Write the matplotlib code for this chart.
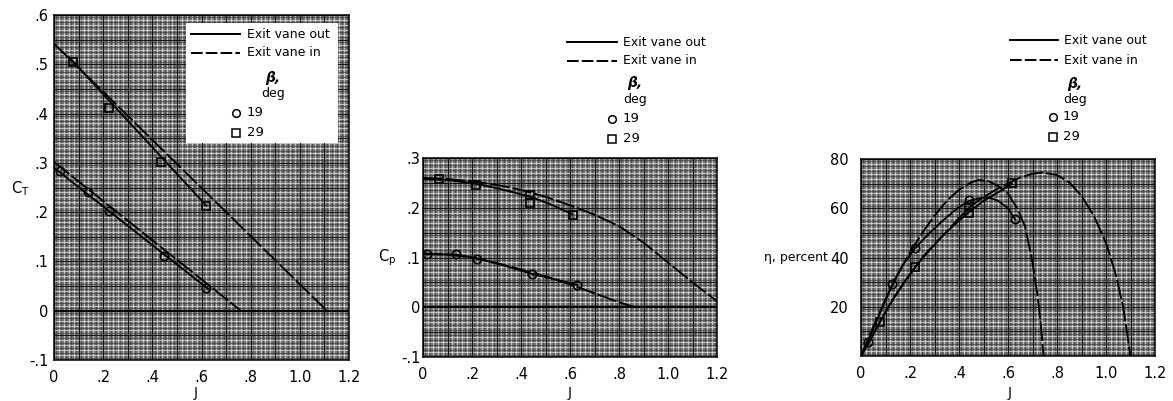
import matplotlib
matplotlib.use('Agg')
import numpy as np
import matplotlib.pyplot as plt
from matplotlib.lines import Line2D
from matplotlib.patches import Rectangle

W, H = 1173, 401

# --- thrust coefficient C_T vs advance ratio J ---
ct29_in_j = [0.0, 1.11]
ct29_in = [0.542, 0.0]
ct29_out_j = [0.06, 0.62]
ct29_out = [0.515, 0.213]
ct19_in_j = [0.0, 0.76]
ct19_in = [0.302, 0.0]
ct19_out_j = [0.0, 0.63]
ct19_out = [0.29, 0.043]
ct_sq_j = [0.077, 0.224, 0.435, 0.618]
ct_sq = [0.505, 0.412, 0.302, 0.213]
ct_ci_j = [0.024, 0.138, 0.224, 0.447, 0.618]
ct_ci = [0.284, 0.241, 0.203, 0.112, 0.047]

# --- power coefficient C_p vs J ---
cp29_in_j = [0.0, 0.1, 0.2, 0.3, 0.4, 0.5, 0.6, 0.7, 0.8, 0.9, 1.0, 1.1, 1.2]
cp29_in = [0.26, 0.258, 0.253, 0.246, 0.236, 0.222, 0.205, 0.186, 0.163, 0.13, 0.09, 0.05, 0.012]
cp29_out_j = [0.0, 0.1, 0.22, 0.33, 0.44, 0.53, 0.61]
cp29_out = [0.258, 0.256, 0.248, 0.236, 0.222, 0.205, 0.187]
cp19_in_j = [0.0, 0.1, 0.2, 0.3, 0.4, 0.5, 0.6, 0.7, 0.8, 0.865]
cp19_in = [0.108, 0.106, 0.1, 0.089, 0.076, 0.062, 0.046, 0.028, 0.01, 0.0]
cp19_out_j = [0.0, 0.136, 0.221, 0.33, 0.445, 0.54, 0.628]
cp19_out = [0.107, 0.106, 0.098, 0.084, 0.067, 0.056, 0.045]
cp_sq_j = [0.065, 0.216, 0.437, 0.437, 0.612]
cp_sq = [0.258, 0.245, 0.225, 0.209, 0.185]
cp_ci_j = [0.018, 0.136, 0.221, 0.445, 0.628]
cp_ci = [0.107, 0.107, 0.097, 0.066, 0.045]

# --- efficiency, percent vs J ---
eta29_in_j = [0.0, 0.05, 0.1, 0.15, 0.2, 0.25, 0.3, 0.35, 0.4, 0.45, 0.5, 0.55, 0.6,
              0.65, 0.7, 0.74, 0.8, 0.85, 0.9, 0.95, 1.0, 1.04, 1.07, 1.1]
eta29_in = [0, 9, 18, 26, 33, 40, 45.5, 50.5, 56, 61, 64.5, 67.5, 70,
            72.5, 74, 74.5, 73.5, 70.5, 65, 57, 46, 33, 20, 0]
eta19_in_j = [0.0, 0.05, 0.1, 0.15, 0.2, 0.25, 0.3, 0.35, 0.4, 0.45, 0.48, 0.52,
              0.56, 0.6, 0.64, 0.67, 0.7, 0.72, 0.735, 0.745]
eta19_in = [0, 12, 23, 33, 42, 50, 57, 63, 67.5, 70.5, 71.5, 71,
            69, 66, 59.5, 52.5, 38, 25, 12, 0]
eta19_out_j = [0.0, 0.027, 0.08, 0.128, 0.17, 0.22, 0.28, 0.34, 0.4, 0.442, 0.48,
               0.52, 0.56, 0.6, 0.629]
eta19_out = [0, 5.8, 18, 29.2, 37, 43.7, 50, 55.5, 60.5, 63, 64, 64.5, 63, 60, 55.5]
eta29_out_j = [0.0, 0.027, 0.078, 0.13, 0.18, 0.22, 0.28, 0.34, 0.4, 0.442, 0.5, 0.56, 0.615]
eta29_out = [0, 4.5, 13.9, 23, 30.5, 36, 43, 49.5, 55, 58.5, 63, 66.5, 70]
eta_sq_j = [0.078, 0.22, 0.442, 0.442, 0.615]
eta_sq = [13.9, 36, 60.6, 57.9, 70.1]
eta_ci_j = [0.027, 0.128, 0.22, 0.442, 0.629]
eta_ci = [5.8, 29.2, 43.7, 63.4, 55.5]

j_ticks = [0, 0.2, 0.4, 0.6, 0.8, 1.0, 1.2]
j_labels = ['0', '.2', '.4', '.6', '.8', '1.0', '1.2']
ct_ticks = [-0.1, 0, 0.1, 0.2, 0.3, 0.4, 0.5, 0.6]
ct_labels = ['-.1', '0', '.1', '.2', '.3', '.4', '.5', '.6']
cp_ticks = [-0.1, 0, 0.1, 0.2, 0.3]
cp_labels = ['-.1', '0', '.1', '.2', '.3']
eta_ticks = [20, 40, 60, 80]
eta_labels = ['20', '40', '60', '80']

DASH = (0, (10, 1.6))
LW = 1.4


def box(l, t, r, b):
    return [l / W, 1 - b / H, (r - l) / W, (b - t) / H]


def fpt(x, y):
    return x / W, 1 - y / H


def graph_paper(ax, xlim, ylim, xf, xm, yf, ym):
    # fine ruled paper: light and dark hairlines with heavier lines every few cells
    ax.set_facecolor('#767676')
    for x in np.arange(xlim[0], xlim[1] + 1e-9, xf):
        ax.axvline(x, color='#e2e2e2', lw=0.5, zorder=0.5)
        ax.axvline(x + xf / 2, color='#3a3a3a', lw=0.45, zorder=0.5)
    for y in np.arange(ylim[0], ylim[1] + 1e-9, yf):
        ax.axhline(y, color='#e2e2e2', lw=0.5, zorder=0.5)
        ax.axhline(y + yf / 2, color='#3a3a3a', lw=0.45, zorder=0.5)
    for x in np.arange(xlim[0], xlim[1] + 1e-9, xm):
        ax.axvline(x, color='#111111', lw=0.7, zorder=0.6)
    for y in np.arange(ylim[0], ylim[1] + 1e-9, ym):
        ax.axhline(y, color='#111111', lw=0.7, zorder=0.6)
    ax.set_xlim(*xlim)
    ax.set_ylim(*ylim)
    for s in ax.spines.values():
        s.set_linewidth(1.1)
        s.set_zorder(5)


def setup_ticks(ax, yticks, ylabels, ypad):
    ax.set_xticks(j_ticks)
    ax.set_xticklabels(j_labels)
    ax.set_yticks(yticks)
    ax.set_yticklabels(ylabels)
    ax.tick_params(axis='x', length=0, pad=7, labelsize=10.5)
    ax.tick_params(axis='y', length=0, pad=ypad, labelsize=10.5)


def curves(ax, pairs_in, pairs_out, sq, ci):
    for j, v in pairs_in:
        ax.plot(j, v, color='black', lw=LW, ls=DASH, zorder=3)
    for j, v in pairs_out:
        ax.plot(j, v, color='black', lw=LW, zorder=3)
    ax.plot(sq[0], sq[1], ls='none', marker='s', ms=6, mfc='none', mec='black',
            mew=1.2, zorder=4)
    ax.plot(ci[0], ci[1], ls='none', marker='o', ms=6, mfc='none', mec='black',
            mew=1.2, zorder=4)


def key(fig, lx0, lx1, tx, y_out, y_in, bx, y_beta, y_deg, mx, nx, y19, y29):
    fig.add_artist(Line2D([lx0 / W, lx1 / W], [1 - y_out / H] * 2, color='black',
                          lw=LW, transform=fig.transFigure, zorder=6))
    fig.add_artist(Line2D([lx0 / W, lx1 / W], [1 - y_in / H] * 2, color='black',
                          lw=LW, ls=(0, (6, 1.6)), transform=fig.transFigure, zorder=6))
    fig.text(*fpt(tx, y_out), 'Exit vane out', fontsize=9, va='center', zorder=6)
    fig.text(*fpt(tx, y_in), 'Exit vane in', fontsize=9, va='center', zorder=6)
    fig.text(*fpt(bx, y_beta), 'β,', fontsize=10, style='italic', weight='bold',
             ha='center', va='center', zorder=6)
    fig.text(*fpt(bx, y_deg), 'deg', fontsize=9, ha='center', va='center', zorder=6)
    for y, m, lab in [(y19, 'o', '19'), (y29, 's', '29')]:
        fig.add_artist(Line2D([mx / W], [1 - y / H], ls='none', marker=m, ms=5.5,
                              mfc='white', mec='black', mew=1.1,
                              transform=fig.transFigure, zorder=6))
        fig.text(*fpt(nx, y), lab, fontsize=9.5, va='center', zorder=6)


fig = plt.figure(figsize=(W / 100, H / 100), dpi=100)
fig.patch.set_facecolor('white')

# thrust coefficient
ax1 = fig.add_axes(box(54, 15, 349, 360))
graph_paper(ax1, (0, 1.2), (-0.1, 0.6), 0.02, 0.1, 0.01, 0.05)
ax1.axhline(0, color='black', lw=1.4, zorder=1)
curves(ax1, [(ct29_in_j, ct29_in), (ct19_in_j, ct19_in)],
       [(ct29_out_j, ct29_out), (ct19_out_j, ct19_out)],
       (ct_sq_j, ct_sq), (ct_ci_j, ct_ci))
setup_ticks(ax1, ct_ticks, ct_labels, 4)
fig.text(*fpt(196, 393), 'J', fontsize=10, ha='center', va='center')
fig.text(*fpt(20, 189), r'$\mathregular{C_T}$', fontsize=10.5, ha='center', va='center')
fig.add_artist(Rectangle(fpt(186, 143), 152 / W, 120 / H, facecolor='white',
                         edgecolor='none', transform=fig.transFigure, zorder=5))
key(fig, 191, 240, 247, 34, 53, 273, 78, 93, 236, 247, 113, 133)

# power coefficient
ax2 = fig.add_axes(box(423, 158, 717, 357))
graph_paper(ax2, (0, 1.2), (-0.1, 0.3), 0.02, 0.1, 0.01, 0.05)
ax2.axhline(0, color='black', lw=1.4, zorder=1)
curves(ax2, [(cp29_in_j, cp29_in), (cp19_in_j, cp19_in)],
       [(cp29_out_j, cp29_out), (cp19_out_j, cp19_out)],
       (cp_sq_j, cp_sq), (cp_ci_j, cp_ci))
setup_ticks(ax2, cp_ticks, cp_labels, 2)
fig.text(*fpt(570, 393), 'J', fontsize=10, ha='center', va='center')
fig.text(*fpt(387, 258), r'$\mathregular{C_p}$', fontsize=10.5, ha='center', va='center')
key(fig, 567, 617, 623, 42, 61, 635, 83, 100, 612, 623, 119, 139)

# efficiency
ax3 = fig.add_axes(box(861, 159, 1155, 356))
graph_paper(ax3, (0, 1.2), (0, 80), 0.02, 0.1, 2, 10)
curves(ax3, [(eta29_in_j, eta29_in), (eta19_in_j, eta19_in)],
       [(eta29_out_j, eta29_out), (eta19_out_j, eta19_out)],
       (eta_sq_j, eta_sq), (eta_ci_j, eta_ci))
setup_ticks(ax3, eta_ticks, eta_labels, 9)
fig.text(*fpt(1010, 393), 'J', fontsize=10, ha='center', va='center')
fig.text(*fpt(796, 258), 'η, percent', fontsize=9, ha='center', va='center')
key(fig, 1010, 1058, 1064, 40, 60, 1075, 84, 100, 1053, 1063, 117, 137)

fig.savefig('out.png', dpi=100)
